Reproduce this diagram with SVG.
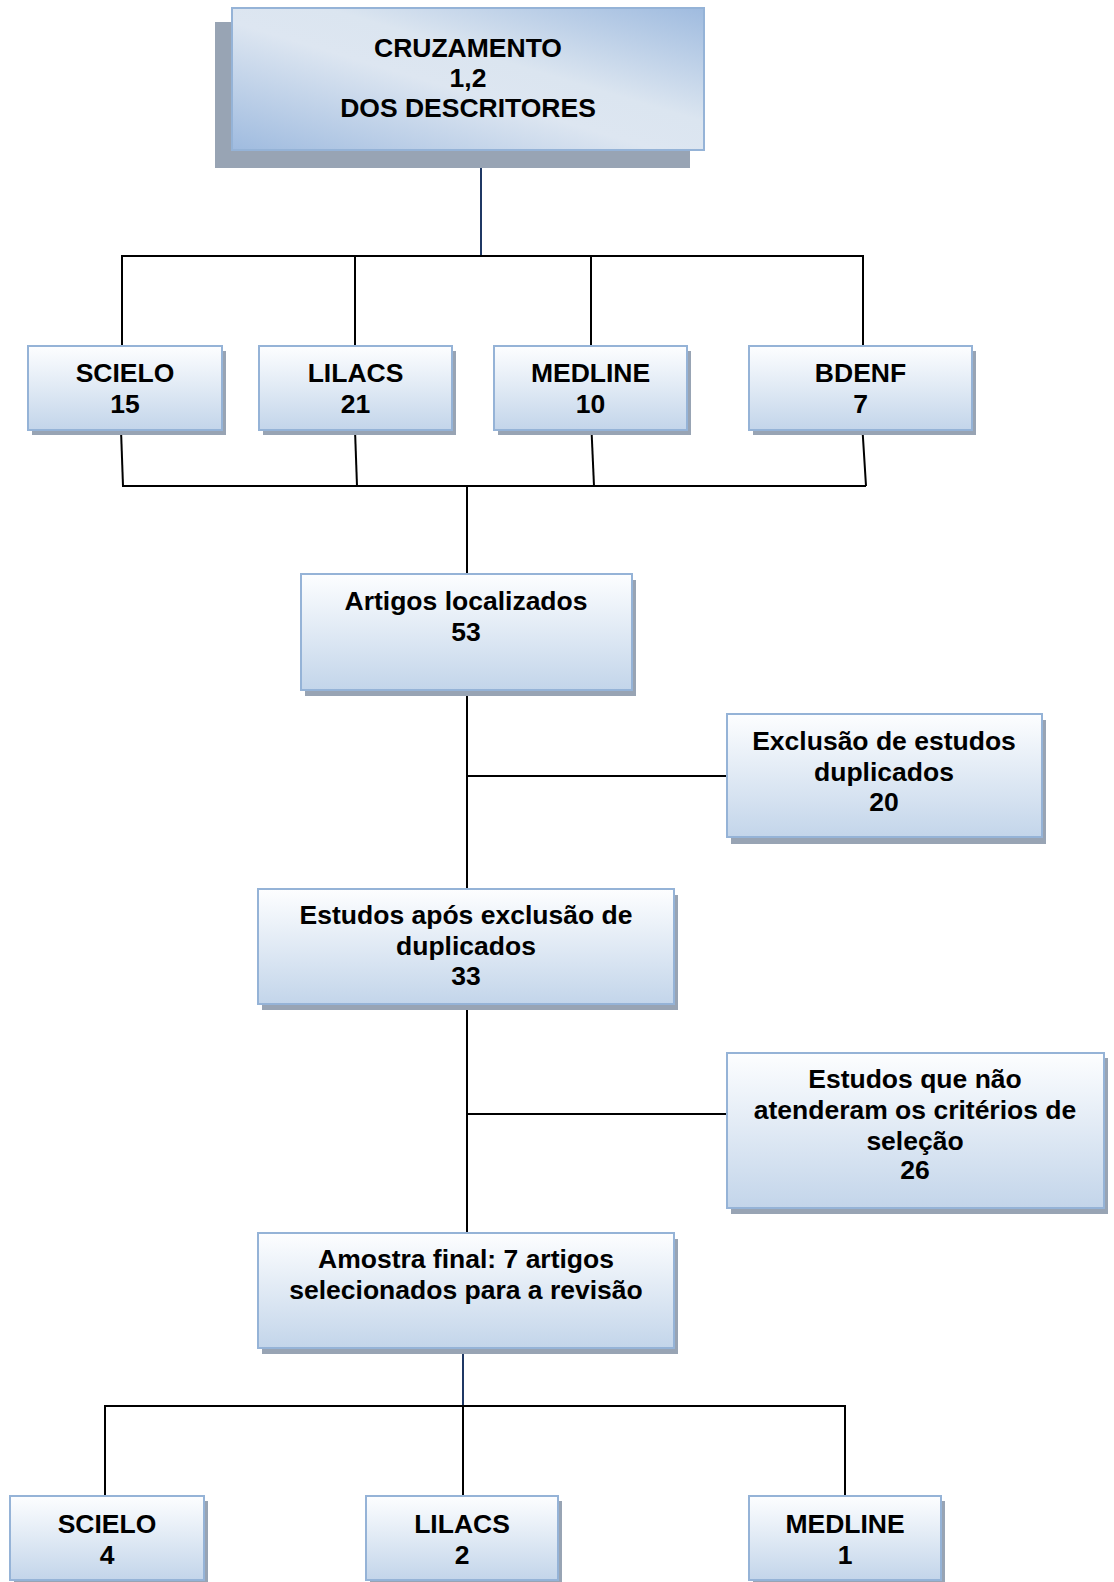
<svg xmlns="http://www.w3.org/2000/svg" width="1114" height="1582" viewBox="0 0 1114 1582">
<defs>
<linearGradient id="gTop" x1="0" y1="1" x2="1" y2="0">
<stop offset="0" stop-color="#9fbbdf"/>
<stop offset="0.45" stop-color="#dde6f1"/>
<stop offset="0.6" stop-color="#dbe5f0"/>
<stop offset="1" stop-color="#9fbbdf"/>
</linearGradient>
<linearGradient id="gBox" x1="0" y1="0" x2="0" y2="1">
<stop offset="0" stop-color="#fdfeff"/>
<stop offset="1" stop-color="#c3d5ea"/>
</linearGradient>
</defs>
<style>
.shadow{fill:#98a4b4}
.box{fill:url(#gBox);stroke:#95b3d7;stroke-width:2}
.top{fill:url(#gTop);stroke:#95b3d7;stroke-width:2}
.t{font-family:"Liberation Sans",Arial,sans-serif;font-weight:bold;font-size:26.5px;fill:#000;text-anchor:middle}
.c{stroke:#000;stroke-width:2;fill:none}
.n{stroke:#1f3864;stroke-width:2;fill:none}
</style>
<g id="connectors">
<line class="n" x1="481" y1="158" x2="481" y2="256"/>
<polyline class="c" points="122,346 122,256 863,256 863,346"/>
<line class="c" x1="355" y1="256" x2="355" y2="346"/>
<line class="c" x1="591" y1="256" x2="591" y2="346"/>
<line class="c" x1="121" y1="430" x2="123" y2="486"/>
<line class="c" x1="355" y1="430" x2="357" y2="486"/>
<line class="c" x1="591.5" y1="430" x2="594" y2="486"/>
<line class="c" x1="862.5" y1="430" x2="866" y2="486"/>
<line class="c" x1="122" y1="486" x2="866" y2="486"/>
<line class="c" x1="467" y1="486" x2="467" y2="574"/>
<line class="c" x1="467" y1="690" x2="467" y2="889"/>
<line class="c" x1="467" y1="776" x2="727" y2="776"/>
<line class="c" x1="467" y1="1004" x2="467" y2="1233"/>
<line class="c" x1="467" y1="1114" x2="727" y2="1114"/>
<line class="n" x1="463" y1="1348" x2="463" y2="1406"/>
<polyline class="c" points="105,1496 105,1406 845,1406 845,1496"/>
<line class="c" x1="463" y1="1406" x2="463" y2="1496"/>
</g>
<g id="n-cruzamento">
<rect class="shadow" x="215" y="22" width="475" height="146"/>
<rect class="top" x="232" y="8" width="472" height="142"/>
<text class="t" x="468" y="57">CRUZAMENTO</text>
<text class="t" x="468" y="87">1,2</text>
<text class="t" x="468" y="117">DOS DESCRITORES</text>
</g>
<g id="n-scielo">
<rect class="shadow" x="32" y="351" width="194" height="84"/>
<rect class="box" x="28" y="346" width="194" height="84"/>
<text class="t" x="125" y="382">SCIELO</text>
<text class="t" x="125" y="413">15</text>
</g>
<g id="n-lilacs">
<rect class="shadow" x="263" y="351" width="193" height="84"/>
<rect class="box" x="259" y="346" width="193" height="84"/>
<text class="t" x="355.5" y="382">LILACS</text>
<text class="t" x="355.5" y="413">21</text>
</g>
<g id="n-medline">
<rect class="shadow" x="498" y="351" width="193" height="84"/>
<rect class="box" x="494" y="346" width="193" height="84"/>
<text class="t" x="590.5" y="382">MEDLINE</text>
<text class="t" x="590.5" y="413">10</text>
</g>
<g id="n-bdenf">
<rect class="shadow" x="753" y="351" width="223" height="84"/>
<rect class="box" x="749" y="346" width="223" height="84"/>
<text class="t" x="860.5" y="382">BDENF</text>
<text class="t" x="860.5" y="413">7</text>
</g>
<g id="n-artigos">
<rect class="shadow" x="305" y="580" width="331" height="116"/>
<rect class="box" x="301" y="574" width="331" height="116"/>
<text class="t" x="466" y="610">Artigos localizados</text>
<text class="t" x="466" y="641">53</text>
</g>
<g id="n-exclusao">
<rect class="shadow" x="731" y="720" width="315" height="124"/>
<rect class="box" x="727" y="714" width="315" height="123"/>
<text class="t" x="884" y="750">Exclusão de estudos</text>
<text class="t" x="884" y="781">duplicados</text>
<text class="t" x="884" y="811">20</text>
</g>
<g id="n-estudos-apos">
<rect class="shadow" x="262" y="895" width="416" height="115"/>
<rect class="box" x="258" y="889" width="416" height="115"/>
<text class="t" x="466" y="924">Estudos após exclusão de</text>
<text class="t" x="466" y="955">duplicados</text>
<text class="t" x="466" y="985">33</text>
</g>
<g id="n-nao-atenderam">
<rect class="shadow" x="731" y="1058" width="377" height="156"/>
<rect class="box" x="727" y="1053" width="377" height="155"/>
<text class="t" x="915" y="1088">Estudos que não</text>
<text class="t" x="915" y="1119">atenderam os critérios de</text>
<text class="t" x="915" y="1150">seleção</text>
<text class="t" x="915" y="1179">26</text>
</g>
<g id="n-amostra">
<rect class="shadow" x="262" y="1239" width="416" height="115"/>
<rect class="box" x="258" y="1233" width="416" height="115"/>
<text class="t" x="466" y="1268">Amostra final: 7 artigos</text>
<text class="t" x="466" y="1299">selecionados para a revisão</text>
</g>
<g id="n-scielo-final">
<rect class="shadow" x="14" y="1501" width="194" height="84"/>
<rect class="box" x="10" y="1496" width="194" height="84"/>
<text class="t" x="107" y="1533">SCIELO</text>
<text class="t" x="107" y="1564">4</text>
</g>
<g id="n-lilacs-final">
<rect class="shadow" x="370" y="1501" width="192" height="84"/>
<rect class="box" x="366" y="1496" width="192" height="84"/>
<text class="t" x="462" y="1533">LILACS</text>
<text class="t" x="462" y="1564">2</text>
</g>
<g id="n-medline-final">
<rect class="shadow" x="753" y="1501" width="192" height="84"/>
<rect class="box" x="749" y="1496" width="192" height="84"/>
<text class="t" x="845" y="1533">MEDLINE</text>
<text class="t" x="845" y="1564">1</text>
</g>
</svg>
